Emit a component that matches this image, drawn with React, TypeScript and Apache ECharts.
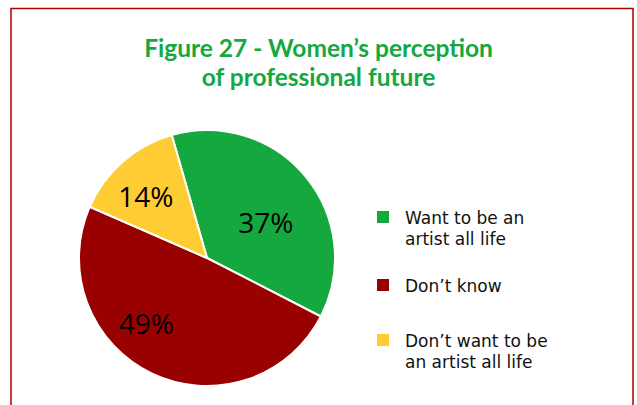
import React, { useEffect, useRef } from "react";
import * as echarts from "echarts";

const titleText = "Figure 27 - Women\u2019s perception\nof professional future";
const categories = ["Want to be an\nartist all life", "Don\u2019t know", "Don\u2019t want to be\nan artist all life"];
const values = [37, 49, 14];
const colors = ["#14a83f", "#990000", "#ffcc33"];
const labelOffsets = [[7, 7], [-32, 4], [-17, -12]];
const legendY = [217, 285, 340];

export default function App() {
  const ref = useRef<HTMLDivElement>(null);
  useEffect(() => {
    const chart = echarts.init(ref.current!, null, { renderer: "svg" });
    const legendGraphics: any[] = [];
    categories.forEach((c, i) => {
      legendGraphics.push({
        type: "rect",
        shape: { x: 377, y: legendY[i] - 6, width: 12, height: 12 },
        style: { fill: colors[i] },
      });
      c.split("\n").forEach((line, j) => {
        legendGraphics.push({
          type: "text",
          x: 405,
          y: legendY[i] + 1 + j * 21,
          style: {
            text: line,
            fill: "#111",
            font: "17px 'DejaVu Sans', sans-serif",
            verticalAlign: "middle",
            align: "left",
          },
        });
      });
    });
    chart.setOption({
      animation: false,
      backgroundColor: "#ffffff",
      title: {
        text: titleText,
        left: "center",
        top: 28,
        textStyle: {
          color: "#14a83f",
          fontSize: 24.5,
          fontWeight: "bold",
          fontFamily: "Lato, sans-serif",
          lineHeight: 29,
        },
      },
      graphic: [
        {
          type: "rect",
          shape: { x: 11, y: 8.5, width: 622, height: 500 },
          style: { fill: "none", stroke: "#b00000", lineWidth: 1.5 },
        },
        ...legendGraphics,
      ],
      series: [
        {
          type: "pie",
          center: [207, 258],
          radius: 128,
          startAngle: 106,
          clockwise: true,
          label: {
            show: true,
            position: "inside",
            formatter: "{c}%",
            color: "#000",
            fontSize: 28,
            fontFamily: "'Open Sans', sans-serif",
          },
          labelLine: { show: false },
          itemStyle: { borderColor: "#ffffff", borderWidth: 2 },
          emphasis: { disabled: true },
          data: categories.map((c, i) => ({
            name: c,
            value: values[i],
            itemStyle: { color: colors[i] },
            label: { offset: labelOffsets[i] },
          })),
        },
      ],
    });
    return () => chart.dispose();
  }, []);
  return (
    <div
      ref={ref}
      style={{ position: "fixed", left: 0, top: 0, width: 637, height: 405 }}
    />
  );
}
